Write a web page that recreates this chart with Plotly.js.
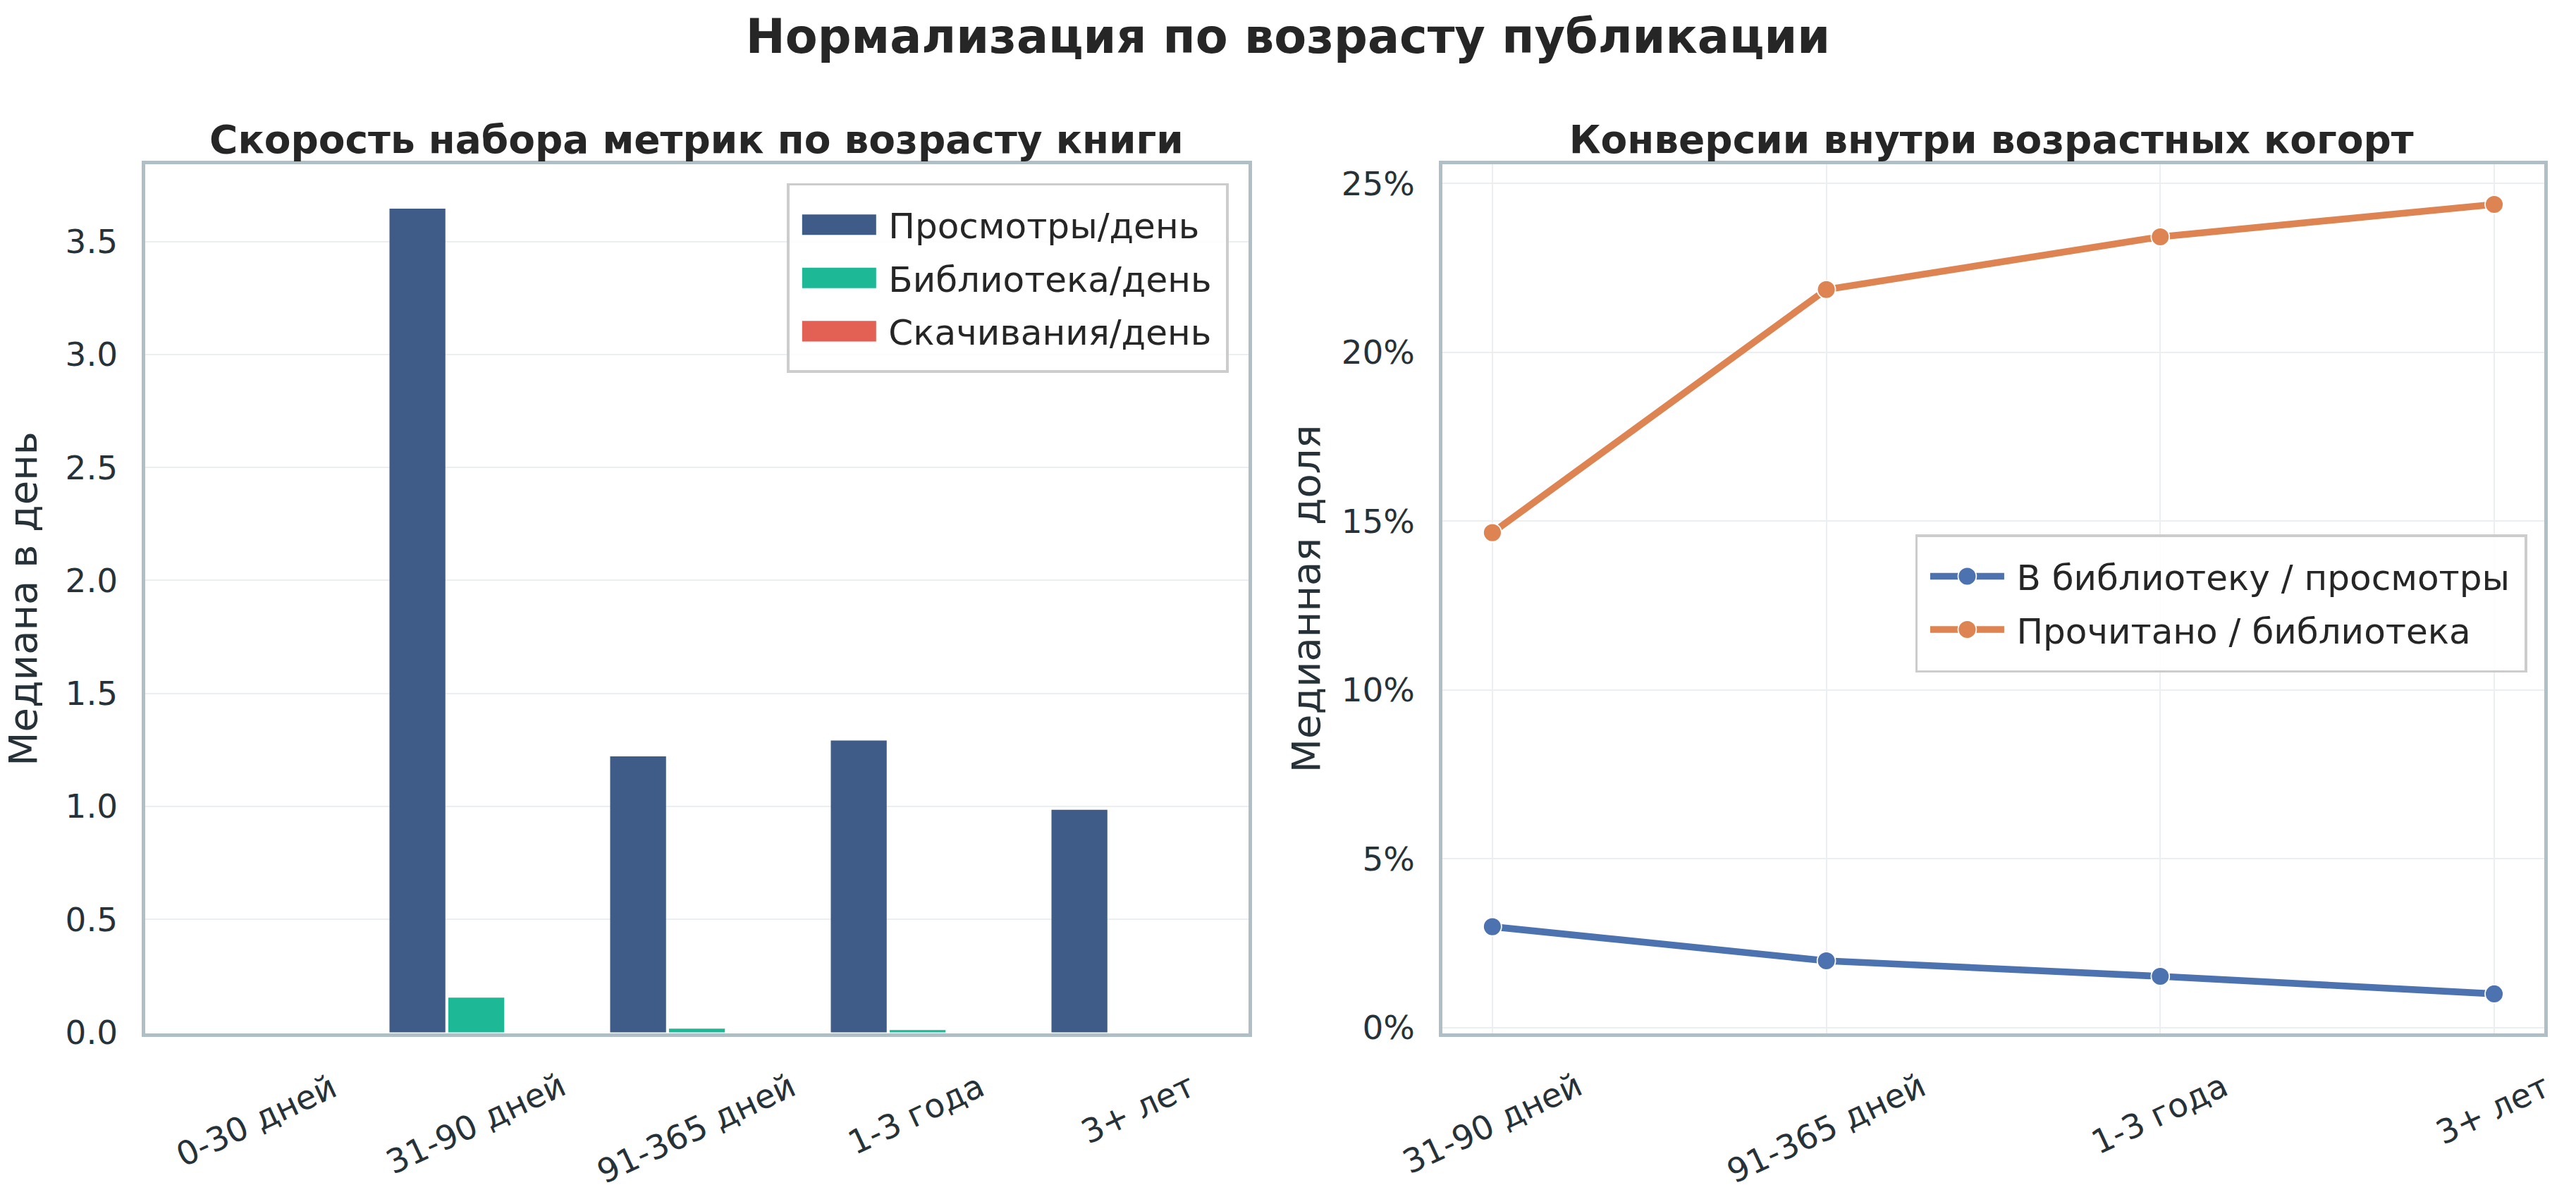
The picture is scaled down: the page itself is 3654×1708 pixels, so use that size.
<!DOCTYPE html>
<html>
<head>
<meta charset="utf-8">
<script src="https://cdn.plot.ly/plotly-3.0.1.min.js"></script>
<style>
  html, body { margin: 0; padding: 0; background: #fff; }
  #wrap { position: relative; width: 3654px; height: 1708px; overflow: hidden; }
  /* drawn at 1/3.5 size and scaled up, so legend symbols keep matplotlib-like proportions */
  #chart { position: absolute; left: 0; top: 0; width: 1044px; height: 488px;
           transform: scale(3.5); transform-origin: 0 0; }
</style>
</head>
<body>
<div id="wrap"><div id="chart"></div></div>
<script>
// age cohorts
var ageCats = ['0-30 дней', '31-90 дней', '91-365 дней', '1-3 года', '3+ лет'];
var viewsPerDay = [0, 3.645, 1.221, 1.291, 0.985];
var libPerDay = [0, 0.153, 0.016, 0.010, 0];
var downloadsPerDay = [0, 0, 0, 0, 0];

// conversions (percent)
var convCats = ['31-90 дней', '91-365 дней', '1-3 года', '3+ лет'];
var libToViews = [2.99, 1.98, 1.52, 1.0];
var readToLib = [14.66, 21.86, 23.42, 24.38];

var barNames = ['Просмотры/день', 'Библиотека/день', 'Скачивания/день'];
var barColors = ['#3f5b87', '#1db896', '#e36055'];
var barValues = [viewsPerDay, libPerDay, downloadsPerDay];

var font = 'DejaVu Sans, sans-serif';
var titleColor = '#262626';
var textColor = '#263238';
var frame = '#b0bec5';
var grid = '#eceff1';

var traces = [];
barValues.forEach(function (vals, i) {
  traces.push({type: 'bar', x: ageCats, y: vals, name: barNames[i],
    marker: {color: barColors[i]}, xaxis: 'x', yaxis: 'y', showlegend: false});
});
// legend entries for the bars (wide rectangles like matplotlib)
barNames.forEach(function (nm, i) {
  traces.push({type: 'scatter', mode: 'lines', x: [null], y: [null], name: nm,
    line: {color: barColors[i], width: 8.3}, xaxis: 'x', yaxis: 'y', legend: 'legend'});
});
traces.push(
  {type: 'scatter', mode: 'lines+markers', x: convCats, y: libToViews,
   name: 'В библиотеку / просмотры', xaxis: 'x2', yaxis: 'y2', legend: 'legend2',
   line: {color: '#4c72b0', width: 2.75},
   marker: {color: '#4c72b0', size: 7.4, line: {color: '#fff', width: 0.5}}},
  {type: 'scatter', mode: 'lines+markers', x: convCats, y: readToLib,
   name: 'Прочитано / библиотека', xaxis: 'x2', yaxis: 'y2', legend: 'legend2',
   line: {color: '#dd8452', width: 2.75},
   marker: {color: '#dd8452', size: 7.4, line: {color: '#fff', width: 0.5}}}
);

var tickSize = 13.4;
var axisCommon = {
  showline: true, mirror: true, linecolor: frame, linewidth: 1.45,
  ticks: '', tickfont: {family: font, size: tickSize, color: textColor},
  zeroline: false, automargin: false
};

// rotated, centred category labels (matplotlib style)
var tickAnns = [];
ageCats.forEach(function (c) {
  tickAnns.push({text: c, xref: 'x', yref: 'paper', x: c, y: 0.119,
    xanchor: 'center', yanchor: 'top', textangle: -25, showarrow: false,
    font: {family: font, size: tickSize, color: textColor}});
});
convCats.forEach(function (c) {
  tickAnns.push({text: c, xref: 'x2', yref: 'paper', x: c, y: 0.119,
    xanchor: 'center', yanchor: 'top', textangle: -25, showarrow: false,
    font: {family: font, size: tickSize, color: textColor}});
});

var layout = {
  width: 1044, height: 488,
  paper_bgcolor: '#fff', plot_bgcolor: '#fff',
  margin: {l: 0, r: 0, t: 0, b: 0},
  font: {family: font, color: textColor},
  showlegend: true,
  barmode: 'group', bargap: 0.2, bargroupgap: 0.05,
  title: {text: '<b>Нормализация по возрасту публикации</b>',
          font: {family: font, size: 19.1, color: titleColor},
          x: 0.5, xanchor: 'center', y: 0.97, yanchor: 'middle'},
  xaxis: Object.assign({}, axisCommon, {
    domain: [0.0564, 0.4847], range: [-0.5, 4.5],
    showgrid: false, type: 'category', showticklabels: false
  }),
  yaxis: Object.assign({}, axisCommon, {
    domain: [0.1417, 0.8636], range: [-0.005, 3.842], dtick: 0.5, tickformat: '.1f',
    showgrid: true, gridcolor: grid, gridwidth: 0.55, ticklabelstandoff: 7,
    title: {text: 'Медиана в день', font: {family: font, size: 16, color: textColor}, standoff: 7}
  }),
  xaxis2: Object.assign({}, axisCommon, {
    anchor: 'y2', domain: [0.5599, 0.9877], range: [-0.15, 3.15],
    showgrid: true, gridcolor: grid, gridwidth: 0.55, type: 'category', showticklabels: false
  }),
  yaxis2: Object.assign({}, axisCommon, {
    anchor: 'x2', domain: [0.1417, 0.8636], range: [-0.17, 25.57], dtick: 5, ticksuffix: '%',
    showgrid: true, gridcolor: grid, gridwidth: 0.55, ticklabelstandoff: 7,
    title: {text: 'Медианная доля', font: {family: font, size: 16, color: textColor}, standoff: 4}
  }),
  legend: {
    x: 0.477, xanchor: 'right', y: 0.848, yanchor: 'top',
    bgcolor: 'rgba(255,255,255,0.85)', bordercolor: '#cccccc', borderwidth: 1.1,
    font: {family: font, size: 14.3, color: titleColor}
  },
  legend2: {
    x: 0.981, xanchor: 'right', y: 0.556, yanchor: 'top',
    bgcolor: 'rgba(255,255,255,0.85)', bordercolor: '#cccccc', borderwidth: 1.1,
    font: {family: font, size: 14.3, color: titleColor}
  },
  annotations: [
    {text: '<b>Скорость набора метрик по возрасту книги</b>', xref: 'paper', yref: 'paper',
     x: 0.2704, y: 0.884, xanchor: 'center', yanchor: 'middle', showarrow: false,
     font: {family: font, size: 15.7, color: titleColor}},
    {text: '<b>Конверсии внутри возрастных когорт</b>', xref: 'paper', yref: 'paper',
     x: 0.7738, y: 0.884, xanchor: 'center', yanchor: 'middle', showarrow: false,
     font: {family: font, size: 15.7, color: titleColor}}
  ].concat(tickAnns)
};

Plotly.newPlot('chart', traces, layout, {staticPlot: true});
</script>
</body>
</html>
